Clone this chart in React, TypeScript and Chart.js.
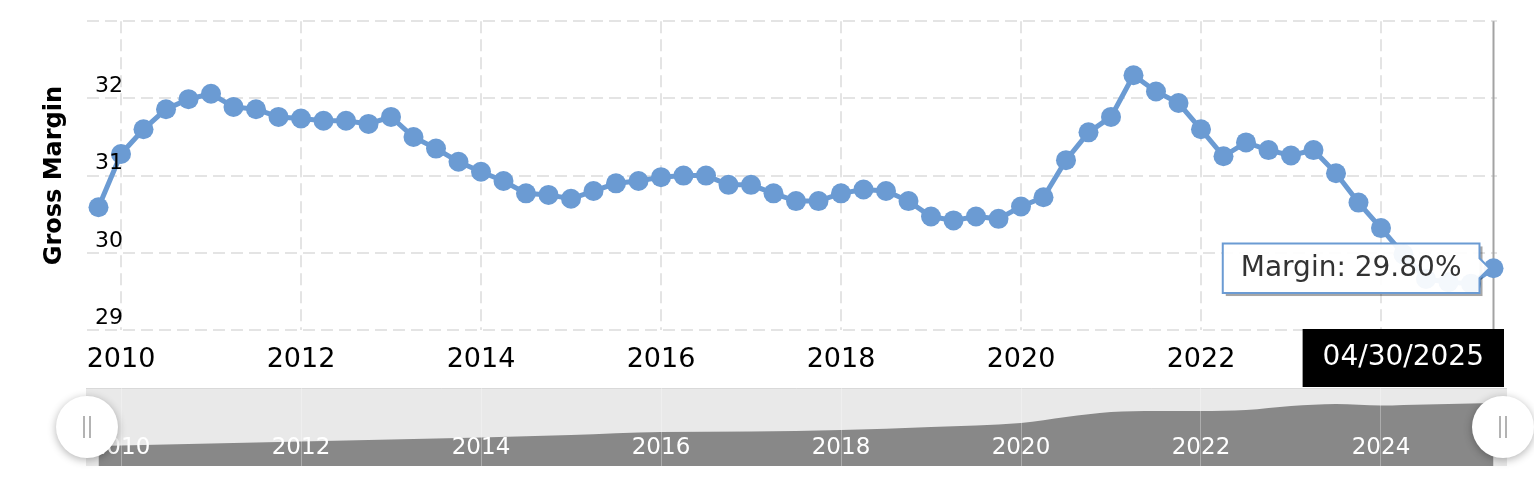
import React, { useEffect, useRef } from 'react';
import { Chart, registerables } from 'chart.js';

Chart.register(...registerables);

const FONT = "'DejaVu Sans', Verdana, sans-serif";
const BLUE = '#6b9bd3';
const GRID = '#e4e4e4';

// fiscal quarter ends (Oct 2009 .. Apr 2025)
const quarterDates: string[] = [
  '2009-10-31',
  '2010-01-31', '2010-04-30', '2010-07-31', '2010-10-31',
  '2011-01-31', '2011-04-30', '2011-07-31', '2011-10-31',
  '2012-01-31', '2012-04-30', '2012-07-31', '2012-10-31',
  '2013-01-31', '2013-04-30', '2013-07-31', '2013-10-31',
  '2014-01-31', '2014-04-30', '2014-07-31', '2014-10-31',
  '2015-01-31', '2015-04-30', '2015-07-31', '2015-10-31',
  '2016-01-31', '2016-04-30', '2016-07-31', '2016-10-31',
  '2017-01-31', '2017-04-30', '2017-07-31', '2017-10-31',
  '2018-01-31', '2018-04-30', '2018-07-31', '2018-10-31',
  '2019-01-31', '2019-04-30', '2019-07-31', '2019-10-31',
  '2020-01-31', '2020-04-30', '2020-07-31', '2020-10-31',
  '2021-01-31', '2021-04-30', '2021-07-31', '2021-10-31',
  '2022-01-31', '2022-04-30', '2022-07-31', '2022-10-31',
  '2023-01-31', '2023-04-30', '2023-07-31', '2023-10-31',
  '2024-01-31', '2024-04-30', '2024-07-31', '2024-10-31',
  '2025-01-31', '2025-04-30',
];

// gross margin, %
const grossMargin: number[] = [
  30.59,
  31.28, 31.60, 31.86, 31.99,
  32.06, 31.89, 31.86, 31.76,
  31.74, 31.71, 31.71, 31.67,
  31.76, 31.50, 31.35, 31.18,
  31.05, 30.93, 30.77, 30.75,
  30.70, 30.80, 30.90, 30.93,
  30.98, 31.00, 31.00, 30.88,
  30.88, 30.77, 30.67, 30.67,
  30.77, 30.82, 30.80, 30.67,
  30.47, 30.42, 30.47, 30.44,
  30.60, 30.72, 31.20, 31.56,
  31.76, 32.30, 32.09, 31.94,
  31.60, 31.25, 31.43, 31.33,
  31.26, 31.33, 31.03, 30.65,
  30.32, 29.98, 29.66, 29.62,
  29.60, 29.80,
];

const marginTicks = [29, 30, 31, 32, 33];
const yearTicks = [2010, 2012, 2014, 2016, 2018, 2020, 2022, 2024];

// navigator (overview) series
const navYears = [2009.75, 2011, 2012, 2013, 2014, 2015, 2016, 2017, 2018, 2019, 2020, 2020.5, 2021, 2021.5, 2022, 2022.5, 2023, 2023.5, 2024, 2024.5, 2025.25];
const navValues = [20, 22.5, 24.5, 26.5, 28.5, 31, 34, 34.5, 36, 39, 43, 49, 54, 55, 55, 56, 60, 62, 60.5, 61.5, 63];

const X_MIN = 2009.6222;
const X_MAX = 2025.2889;

const toYear = (d: string) => {
  const [y, m] = d.split('-').map(Number);
  return y + (m - 1) / 12;
};

const formatDate = (d: string) => {
  const [y, m, day] = d.split('-');
  return `${m}/${day}/${y}`;
};

const crosshairPlugin = {
  id: 'crosshair',
  beforeDatasetsDraw(chart: any) {
    const meta = chart.getDatasetMeta(0);
    const pt = meta.data[meta.data.length - 1];
    const { ctx, chartArea } = chart;
    ctx.save();
    ctx.strokeStyle = '#a3a3a3';
    ctx.lineWidth = 2;
    ctx.beginPath();
    ctx.moveTo(pt.x, chartArea.top);
    ctx.lineTo(pt.x, chartArea.bottom);
    ctx.stroke();
    ctx.restore();
  },
  beforeTooltipDraw(chart: any, args: any) {
    const tt = args.tooltip;
    if (!tt || !tt.opacity) return;
    const { ctx } = chart;
    ctx.save();
    ctx.beginPath();
    ctx.rect(0, 0, chart.width, chart.height);
    ctx.rect(tt.x, tt.y, tt.width, tt.height);
    ctx.clip('evenodd');
    ctx.fillStyle = 'rgba(0,0,0,0.35)';
    ctx.fillRect(tt.x + 3, tt.y + 3, tt.width, tt.height);
    ctx.restore();
  },
  afterDraw(chart: any) {
    const meta = chart.getDatasetMeta(0);
    const pt = meta.data[meta.data.length - 1];
    const { ctx, chartArea } = chart;
    const text = formatDate(quarterDates[quarterDates.length - 1]);
    ctx.save();
    ctx.font = `28px ${FONT}`;
    const w = ctx.measureText(text).width + 40;
    const h = 58;
    const left = Math.min(pt.x - w / 2, chartArea.right + 7 - w);
    const top = chartArea.bottom - 1;
    ctx.fillStyle = '#000';
    ctx.fillRect(left, top, w, h);
    ctx.fillStyle = '#fff';
    ctx.textAlign = 'center';
    ctx.textBaseline = 'middle';
    ctx.fillText(text, left + w / 2, top + h / 2);
    ctx.restore();
  },
};

const navigatorPlugin = {
  id: 'navigatorFrame',
  beforeDraw(chart: any) {
    const { ctx, chartArea } = chart;
    ctx.save();
    ctx.fillStyle = '#e9e9e9';
    ctx.fillRect(chartArea.left - 1, chartArea.top, chartArea.right - chartArea.left + 11, chartArea.bottom - chartArea.top);
    ctx.strokeStyle = '#d9d9d9';
    ctx.lineWidth = 1;
    ctx.beginPath();
    ctx.moveTo(chartArea.left - 1, chartArea.top + 0.5);
    ctx.lineTo(chartArea.right + 10, chartArea.top + 0.5);
    ctx.stroke();
    ctx.restore();
  },
  afterDraw(chart: any) {
    const { ctx, chartArea } = chart;
    const cy = (chartArea.top + chartArea.bottom) / 2;
    [chartArea.left, chartArea.right + 6].forEach((cx) => {
      ctx.save();
      ctx.shadowColor = 'rgba(0,0,0,0.3)';
      ctx.shadowBlur = 8;
      ctx.shadowOffsetY = 2;
      ctx.fillStyle = '#fff';
      ctx.beginPath();
      ctx.arc(cx, cy, 31, 0, Math.PI * 2);
      ctx.fill();
      ctx.restore();
      ctx.save();
      ctx.strokeStyle = '#9a9a9a';
      ctx.lineWidth = 1.5;
      ctx.beginPath();
      ctx.moveTo(cx - 3, cy - 11);
      ctx.lineTo(cx - 3, cy + 11);
      ctx.moveTo(cx + 3, cy - 11);
      ctx.lineTo(cx + 3, cy + 11);
      ctx.stroke();
      ctx.restore();
    });
  },
};

const App: React.FC = () => {
  const mainRef = useRef<HTMLCanvasElement>(null);
  const navRef = useRef<HTMLCanvasElement>(null);

  useEffect(() => {
    if (!mainRef.current || !navRef.current) return;
    Chart.defaults.font.family = FONT;

    const main = new Chart(mainRef.current, {
      type: 'line',
      data: {
        datasets: [
          {
            label: 'Margin',
            data: quarterDates.map((d, i) => ({ x: toYear(d), y: grossMargin[i] })),
            borderColor: BLUE,
            backgroundColor: BLUE,
            borderWidth: 5,
            pointRadius: 10,
            pointHoverRadius: 10,
            pointBorderWidth: 0,
            pointHoverBorderWidth: 0,
            pointBackgroundColor: BLUE,
            pointHoverBackgroundColor: BLUE,
            tension: 0,
            clip: false,
          } as any,
        ],
      },
      options: {
        responsive: true,
        maintainAspectRatio: false,
        animation: false,
        events: [],
        layout: { padding: { top: 16, right: 37, bottom: 0, left: 0 } },
        scales: {
          x: {
            type: 'linear',
            min: X_MIN,
            max: X_MAX,
            afterBuildTicks: (s: any) => {
              s.ticks = yearTicks.map((v) => ({ value: v }));
            },
            afterFit: (s: any) => {
              s.height = 58;
            },
            grid: { color: GRID, lineWidth: 2, drawTicks: false },
            border: { display: false, dash: [12, 6] },
            ticks: {
              color: '#000',
              font: { size: 27 },
              padding: 14,
              maxRotation: 0,
              autoSkip: false,
              callback: (v: any) => String(v),
            },
          },
          y: {
            min: 29,
            max: 33,
            afterBuildTicks: (s: any) => {
              s.ticks = marginTicks.map((v) => ({ value: v }));
            },
            afterFit: (s: any) => {
              s.width = 87;
            },
            grid: { color: GRID, lineWidth: 2, drawTicks: false },
            border: { display: false, dash: [12, 6] },
            ticks: {
              mirror: true,
              padding: 8,
              labelOffset: -12,
              z: 1,
              color: '#000',
              font: { size: 22 },
              callback: (v: any) => (v === 33 ? '' : String(v)),
            },
            title: {
              display: true,
              text: 'Gross Margin',
              color: '#000',
              font: { size: 24, weight: 'bold' },
              padding: { top: 40, bottom: 0 },
            },
          },
        },
        plugins: {
          legend: { display: false },
          tooltip: {
            enabled: true,
            xAlign: 'right',
            yAlign: 'center',
            backgroundColor: 'rgba(255,255,255,0.93)',
            borderColor: BLUE,
            borderWidth: 2,
            cornerRadius: 0,
            caretSize: 10,
            caretPadding: 4,
            displayColors: false,
            bodyColor: '#333',
            bodyFont: { size: 28 },
            padding: { left: 18, right: 18, top: 8, bottom: 8 },
            callbacks: {
              title: () => [],
              label: (c: any) => `Margin: ${c.parsed.y.toFixed(2)}%`,
            },
          },
        },
      } as any,
      plugins: [crosshairPlugin],
    });

    const last = grossMargin.length - 1;
    main.setActiveElements([{ datasetIndex: 0, index: last }]);
    main.tooltip?.setActiveElements([{ datasetIndex: 0, index: last }], { x: 0, y: 0 });
    main.update();

    const nav = new Chart(navRef.current, {
      type: 'line',
      data: {
        datasets: [
          {
            data: navYears.map((x, i) => ({ x, y: navValues[i] })),
            fill: 'origin',
            backgroundColor: '#888888',
            borderWidth: 0,
            pointRadius: 0,
            cubicInterpolationMode: 'monotone',
          } as any,
        ],
      },
      options: {
        responsive: true,
        maintainAspectRatio: false,
        animation: false,
        events: [],
        layout: { padding: { top: 0, right: 37, bottom: 28, left: 87 } },
        scales: {
          x: {
            type: 'linear',
            min: X_MIN,
            max: X_MAX,
            afterBuildTicks: (s: any) => {
              s.ticks = yearTicks.map((v) => ({ value: v }));
            },
            afterFit: (s: any) => {
              s.height = 0;
            },
            grid: { color: 'rgba(255,255,255,0.3)', lineWidth: 1, drawTicks: false, z: 1 },
            border: { display: false },
            ticks: {
              mirror: true,
              padding: 4,
              z: 1,
              color: '#fff',
              font: { size: 23 },
              maxRotation: 0,
              autoSkip: false,
              callback: (v: any) => String(v),
            },
          },
          y: { display: false, min: 0, max: 78 },
        },
        plugins: { legend: { display: false }, tooltip: { enabled: false } },
      } as any,
      plugins: [navigatorPlugin],
    });

    return () => {
      main.destroy();
      nav.destroy();
    };
  }, []);

  return (
    <div style={{ position: 'absolute', left: 0, top: 0, width: 1534, height: 494, background: '#fff' }}>
      <div style={{ position: 'absolute', left: 0, top: 0, width: 1534, height: 388 }}>
        <canvas ref={mainRef} />
      </div>
      <div style={{ position: 'absolute', left: 0, top: 388, width: 1534, height: 106 }}>
        <canvas ref={navRef} />
      </div>
    </div>
  );
};

export default App;
